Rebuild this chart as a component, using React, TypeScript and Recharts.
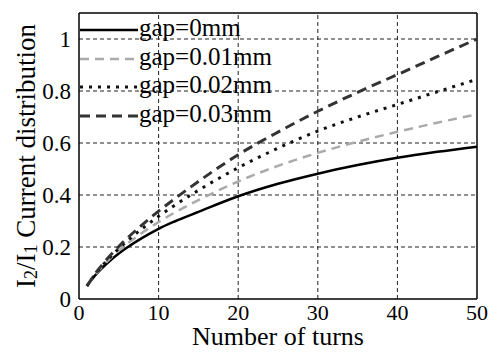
import { LineChart, Line, XAxis, YAxis, Legend, ReferenceLine } from 'recharts'

const turns = [1, 2, 3, 4, 5, 6, 8, 10, 12, 15, 20, 25, 30, 35, 40, 45, 50]
const gap0 = [0.05, 0.09, 0.122, 0.15, 0.175, 0.197, 0.236, 0.27, 0.298, 0.335, 0.395, 0.443, 0.482, 0.515, 0.543, 0.566, 0.586]
const gap001 = [0.05, 0.092, 0.127, 0.158, 0.186, 0.211, 0.256, 0.296, 0.332, 0.38, 0.452, 0.512, 0.562, 0.605, 0.643, 0.678, 0.71]
const gap002 = [0.05, 0.094, 0.131, 0.164, 0.194, 0.222, 0.272, 0.318, 0.36, 0.418, 0.505, 0.58, 0.646, 0.7, 0.748, 0.797, 0.845]
const gap003 = [0.05, 0.096, 0.135, 0.17, 0.202, 0.232, 0.287, 0.338, 0.385, 0.452, 0.555, 0.642, 0.722, 0.795, 0.863, 0.932, 1.0]

const xTicks = [0, 10, 20, 30, 40, 50]
const yTicks = [0, 0.2, 0.4, 0.6, 0.8, 1]

const seriesNames = ['gap=0mm', 'gap=0.01mm', 'gap=0.02mm', 'gap=0.03mm']

const data = turns.map((t, i) => ({ t, g0: gap0[i], g1: gap001[i], g2: gap002[i], g3: gap003[i] }))

const FONT = '"Liberation Serif", "Times New Roman", serif'

const styles = [
  { key: 'g0', stroke: '#000', dash: undefined as string | undefined, width: 2.5 },
  { key: 'g1', stroke: '#aaaaaa', dash: '9 6', width: 2.5 },
  { key: 'g2', stroke: '#111', dash: '3 6', width: 3 },
  { key: 'g3', stroke: '#333', dash: '10 6', width: 3 },
]

function LegendBox() {
  return (
    <div style={{ fontFamily: FONT, fontSize: 25, color: '#000' }}>
      {seriesNames.map((name, i) => (
        <div key={name} style={{ display: 'flex', alignItems: 'center', height: 28.5 }}>
          <svg width={59} height={10} style={{ display: 'block' }}>
            <line x1={0} x2={58} y1={5} y2={5} stroke={styles[i].stroke} strokeWidth={styles[i].width} strokeDasharray={styles[i].dash} />
          </svg>
          <span style={{ lineHeight: '28px', marginTop: -4 }}>{name}</span>
        </div>
      ))}
    </div>
  )
}

function YLabel(props: any) {
  const vb = props.viewBox || { x: 0, y: 13, width: 79, height: 286 }
  const x = vb.x + 26
  const y = vb.y + vb.height / 2
  return (
    <text x={x} y={y} transform={`rotate(-90, ${x}, ${y})`} textAnchor="middle" dominantBaseline="central" fontFamily={FONT} fontSize={27} fill="#000">
      <tspan>I</tspan>
      <tspan fontSize={18} dy={5}>2</tspan>
      <tspan dy={-5}>/I</tspan>
      <tspan fontSize={18} dy={5}>1</tspan>
      <tspan dy={-5}> Current distribution</tspan>
    </text>
  )
}

const grid = { stroke: '#222', strokeDasharray: '4 3', strokeWidth: 1 }

export default function App() {
  return (
    <div style={{ position: 'absolute', left: 0, top: 0, width: 493, height: 352, background: '#fff' }}>
      <LineChart width={493} height={352} data={data} margin={{ top: 13, right: 16, left: 0, bottom: 0 }}>
        <XAxis
          dataKey="t"
          type="number"
          domain={[0, 50]}
          ticks={xTicks}
          height={53}
          tickLine={false}
          axisLine={{ stroke: '#000', strokeWidth: 1.5 }}
          tick={{ fontFamily: FONT, fontSize: 22, fill: '#000' }}
          tickMargin={-1}
          label={{ value: 'Number of turns', position: 'insideBottom', offset: 7, style: { fontFamily: FONT, fontSize: 26, fill: '#000' } }}
        />
        <YAxis
          type="number"
          domain={[0, 1.1]}
          ticks={yTicks}
          width={79}
          tickLine={false}
          axisLine={{ stroke: '#000', strokeWidth: 1.5 }}
          tick={{ fontFamily: FONT, fontSize: 23, fill: '#000' }}
          tickMargin={2}
          tickFormatter={(v: number) => String(v)}
          label={<YLabel />}
        />
        {xTicks.slice(1, -1).map((v) => (
          <ReferenceLine key={'gx' + v} x={v} {...grid} />
        ))}
        {yTicks.slice(1).map((v) => (
          <ReferenceLine key={'gy' + v} y={v} {...grid} />
        ))}
        <ReferenceLine x={50} stroke="#000" strokeWidth={1.5} />
        <ReferenceLine y={1.1} stroke="#000" strokeWidth={1.5} />
        <Legend layout="vertical" align="center" verticalAlign="middle" wrapperStyle={{ left: 80, top: 16, width: 'auto' }} content={<LegendBox />} />
        {styles.map((s, i) => (
          <Line
            key={s.key}
            dataKey={s.key}
            name={seriesNames[i]}
            type="monotone"
            stroke={s.stroke}
            strokeWidth={s.width}
            strokeDasharray={s.dash}
            dot={false}
            isAnimationActive={false}
          />
        ))}
      </LineChart>
    </div>
  )
}
